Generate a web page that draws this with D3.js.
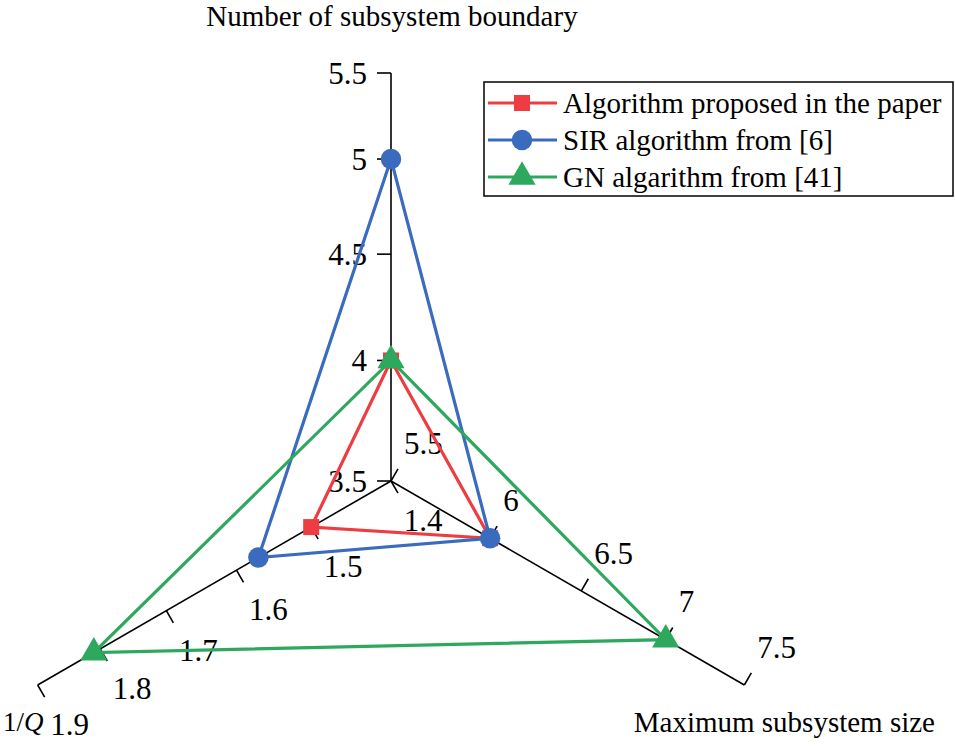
<!DOCTYPE html>
<html>
<head>
<meta charset="utf-8">
<script src="https://cdn.jsdelivr.net/npm/d3@7/dist/d3.min.js"></script>
<style>
  html, body { margin: 0; padding: 0; background: #fff; }
</style>
</head>
<body>
<svg id="chart" width="955" height="746" font-family="'Liberation Serif', 'Times New Roman', Tinos, 'DejaVu Serif', serif"></svg>
<script>
// ---- data ----
const axisNames = ["Number of subsystem boundary", "Maximum subsystem size", "1/Q"];
const axisDomains = [[3.5, 5.5], [5.5, 7.5], [1.4, 1.9]];
const boundaryTicks = [3.5, 4, 4.5, 5, 5.5];
const sizeTicks = [5.5, 6, 6.5, 7, 7.5];
const qTicks = [1.4, 1.5, 1.6, 1.7, 1.8, 1.9];
const seriesNames = ["Algorithm proposed in the paper", "SIR algorithm from [6]", "GN algarithm from [41]"];
const proposedValues = [4, 6, 1.5];
const sirValues = [5, 6, 1.57];
const gnValues = [4, 7, 1.81];
const seriesColors = ["#EE3D42", "#3A6BBE", "#2EA85E"];
const seriesSymbols = [d3.symbolSquare, d3.symbolCircle, d3.symbolTriangle];

// ---- layout ----
const svg = d3.select("#chart");
const cx = 391, cy = 481, R = 408;
const angles = [-Math.PI / 2, Math.PI / 6, Math.PI * 5 / 6];
const scales = axisDomains.map(d => d3.scaleLog().domain(d).range([0, R]));

function pt(i, v) {
  const r = scales[i](v);
  return [cx + r * Math.cos(angles[i]), cy + r * Math.sin(angles[i])];
}

const axesG = svg.append("g");
[0, 1, 2].forEach(i => {
  const e = pt(i, axisDomains[i][1]);
  axesG.append("line")
    .attr("x1", cx).attr("y1", cy).attr("x2", e[0]).attr("y2", e[1])
    .attr("stroke", "#000").attr("stroke-width", 1.6);
});

const tickLen = 14;
const tickFont = 31;
// vertical axis ticks (to the left)
boundaryTicks.forEach(v => {
  const p = pt(0, v);
  axesG.append("line").attr("x1", p[0] - tickLen).attr("y1", p[1]).attr("x2", p[0]).attr("y2", p[1])
    .attr("stroke", "#000").attr("stroke-width", 1.6);
  axesG.append("text").attr("x", p[0] - 24).attr("y", p[1]).attr("dy", "0.35em")
    .attr("text-anchor", "end").attr("font-size", tickFont).text(v);
});
// right axis ticks (perpendicular, up-right)
sizeTicks.forEach(v => {
  const p = pt(1, v);
  const dx = Math.sin(angles[1]), dy = -Math.cos(angles[1]);
  axesG.append("line").attr("x1", p[0]).attr("y1", p[1]).attr("x2", p[0] + dx * tickLen).attr("y2", p[1] + dy * tickLen)
    .attr("stroke", "#000").attr("stroke-width", 1.6);
  axesG.append("text").attr("x", p[0] + 13).attr("y", p[1] - 38).attr("dy", "0.35em")
    .attr("text-anchor", "start").attr("font-size", tickFont).text(v);
});
// left axis ticks (perpendicular, down-right)
qTicks.forEach(v => {
  const p = pt(2, v);
  axesG.append("line").attr("x1", p[0]).attr("y1", p[1]).attr("x2", p[0] + 0.5 * tickLen).attr("y2", p[1] + 0.866 * tickLen)
    .attr("stroke", "#000").attr("stroke-width", 1.6);
  axesG.append("text").attr("x", p[0] + 32).attr("y", p[1] + 39).attr("dy", "0.35em")
    .attr("text-anchor", "middle").attr("font-size", tickFont).text(v);
});

// axis titles
svg.append("text").attr("x", 392).attr("y", 26).attr("text-anchor", "middle").attr("font-size", 29).text(axisNames[0]);
svg.append("text").attr("x", 935).attr("y", 732).attr("text-anchor", "end").attr("font-size", 29).text(axisNames[1]);
const qt = svg.append("text").attr("x", 3).attr("y", 731).attr("font-size", 27);
qt.append("tspan").text("1/");
qt.append("tspan").attr("font-style", "italic").text("Q");

// series
const allSeries = [proposedValues, sirValues, gnValues];
const line = d3.line().curve(d3.curveLinearClosed);
const symSizes = [256, 330, 320];
allSeries.forEach((vals, s) => {
  const pts = vals.map((v, i) => pt(i, v));
  svg.append("path").attr("d", line(pts)).attr("fill", "none")
    .attr("stroke", seriesColors[s]).attr("stroke-width", 3.2).attr("stroke-linejoin", "miter");
});
allSeries.forEach((vals, s) => {
  const pts = vals.map((v, i) => pt(i, v));
  svg.selectAll(null).data(pts).enter().append("path")
    .attr("transform", d => `translate(${d[0]},${d[1]})`)
    .attr("d", d3.symbol().type(seriesSymbols[s]).size(symSizes[s]))
    .attr("fill", seriesColors[s]);
});

// legend
const lg = svg.append("g");
lg.append("rect").attr("x", 484).attr("y", 82).attr("width", 469).attr("height", 114)
  .attr("fill", "#fff").attr("stroke", "#000").attr("stroke-width", 1.5);
seriesNames.forEach((name, s) => {
  const y = 103 + s * 37;
  lg.append("line").attr("x1", 488).attr("x2", 557).attr("y1", y).attr("y2", y)
    .attr("stroke", seriesColors[s]).attr("stroke-width", 3.2);
  lg.append("path").attr("transform", `translate(522,${y})`)
    .attr("d", d3.symbol().type(seriesSymbols[s]).size(symSizes[s])).attr("fill", seriesColors[s]);
  lg.append("text").attr("x", 563).attr("y", y).attr("dy", "0.35em").attr("font-size", 29).text(name);
});
</script>
</body>
</html>
